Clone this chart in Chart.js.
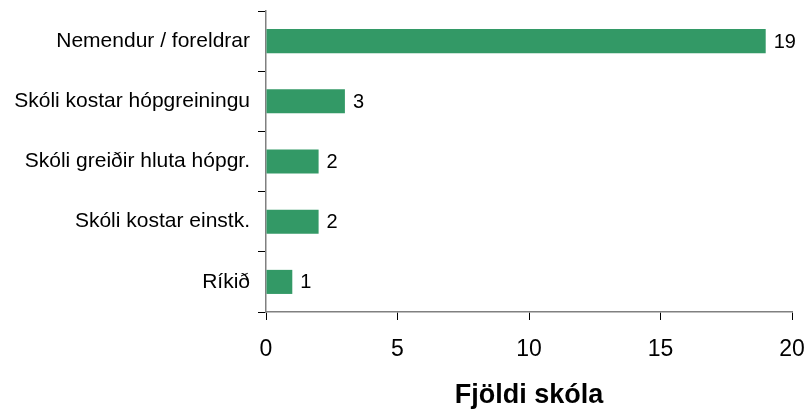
<!DOCTYPE html>
<html lang="is">
<head>
    <meta charset="UTF-8">
    <title>Fjöldi skóla</title>
    <script src="https://cdn.jsdelivr.net/npm/chart.js"></script>
    <style>
        body { margin: 0; background: #fff; }
        .wrap { width: 808px; height: 412px; }
    </style>
</head>
<body>
    <div class="wrap"><canvas id="chart"></canvas></div>

    <script>
        const categories = ['Nemendur / foreldrar', 'Skóli kostar hópgreiningu', 'Skóli greiðir hluta hópgr.', 'Skóli kostar einstk.', 'Ríkið'];
        const values = [19, 3, 2, 2, 1];
        const xTicks = [0, 5, 10, 15, 20];

        const FONT = '"Liberation Sans", Arial, sans-serif';

        // gildin hægra megin við súlurnar
        const valueLabels = {
            id: 'valueLabels',
            afterDatasetsDraw(chart) {
                const ctx = chart.ctx;
                const meta = chart.getDatasetMeta(0);
                ctx.save();
                ctx.font = '20px ' + FONT;
                ctx.fillStyle = '#000';
                ctx.textAlign = 'left';
                ctx.textBaseline = 'middle';
                meta.data.forEach((bar, i) => {
                    ctx.fillText(String(values[i]), bar.x + 8, bar.y + 1);
                });
                ctx.restore();
            }
        };

        new Chart(document.getElementById('chart'), {
            type: 'bar',
            data: {
                labels: categories,
                datasets: [{
                    data: values,
                    backgroundColor: '#339966',
                    barPercentage: 0.4,
                    categoryPercentage: 1
                }]
            },
            options: {
                indexAxis: 'y',
                responsive: true,
                maintainAspectRatio: false,
                animation: false,
                layout: { padding: { top: 11, right: 16, left: 0, bottom: 0 } },
                plugins: {
                    legend: { display: false },
                    tooltip: { enabled: false }
                },
                scales: {
                    x: {
                        min: 0,
                        max: 20,
                        afterBuildTicks(scale) {
                            scale.ticks = xTicks.map(v => ({ value: v }));
                        },
                        afterFit(scale) {
                            scale.height = 100;
                            scale.paddingLeft = 0;
                            scale.paddingRight = 0;
                        },
                        grid: { drawOnChartArea: false, tickLength: 8, color: '#000', tickWidth: 1 },
                        border: { color: '#808080', width: 1.5 },
                        ticks: {
                            padding: 16,
                            color: '#000',
                            font: { family: FONT, size: 23 }
                        },
                        title: {
                            display: true,
                            text: 'Fjöldi skóla',
                            color: '#000',
                            padding: { top: 10, bottom: 0 },
                            font: { family: FONT, size: 27, weight: 'bold' }
                        }
                    },
                    y: {
                        afterFit(scale) {
                            scale.width = 266;
                            scale.paddingTop = 0;
                            scale.paddingBottom = 0;
                        },
                        grid: { drawOnChartArea: false, offset: true, tickLength: 8, color: '#000', tickWidth: 1 },
                        border: { color: '#808080', width: 1.5 },
                        ticks: {
                            padding: 8,
                            color: '#000',
                            font: { family: FONT, size: 21 }
                        }
                    }
                }
            },
            plugins: [valueLabels]
        });
    </script>
</body>
</html>
